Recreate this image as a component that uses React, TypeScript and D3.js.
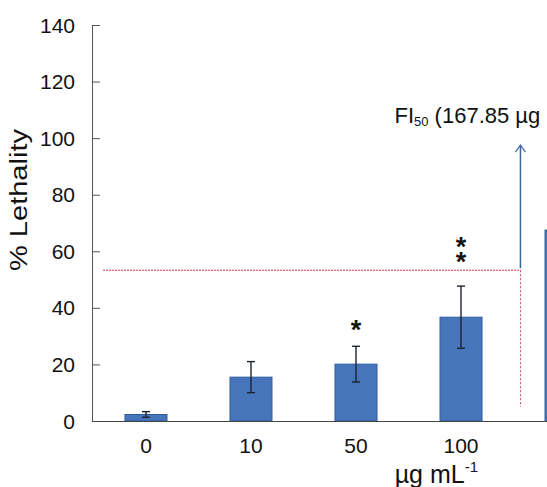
import React from 'react';
import * as d3 from 'd3';

// concentrations (µg/mL) – the last one is the FI50 bar, cut off by the frame
const categories = ['0', '10', '50', '100', 'FI50'];
const tickLabels = ['0', '10', '50', '100', ''];
const lethality = [2.3, 15.5, 20.1, 36.7, 67.5];
const errors = [1.0, 5.5, 6.3, 11.0, 0];
const stars = ['', '', '*', '**', ''];
// lethality level of the lowest star of each column
const starLevel = [0, 0, 34.6, 58.7, 0];
const yTicks = [0, 20, 40, 60, 80, 100, 120, 140];

// FI50 annotation
const fiLevel = 53.3;
const arrowTop = 97.5;
const fiText = '(167.85 µg mL⁻¹)';

const W = 547;
const H = 487;
const FONT = '"Liberation Sans", Arial, sans-serif';

const App = () => {
  const x = d3.scaleBand<string>()
    .domain(categories)
    .range([92, 620])
    .paddingInner(0.6)
    .paddingOuter(0.314);

  const y = d3.scaleLinear()
    .domain([0, 140])
    .range([421, 25]);

  const bw = x.bandwidth();
  const x0 = x.range()[0];
  // vertical FI50 marker sits in the gap before the last bar
  const gapStart = x('100')! + bw;
  const fiX = gapStart + (x('FI50')! - gapStart) * 0.61;

  return (
    <svg width={W} height={H} style={{ position: 'absolute', left: 0, top: 0, background: '#fff' }}
      fontFamily={FONT}>
      <defs>
        <marker id="arrow" viewBox="0 0 12 12" refX="11" refY="6" markerWidth="12" markerHeight="12"
          markerUnits="userSpaceOnUse" orient="auto">
          <path d="M4,1 L11,6 L4,11" fill="none" stroke="#4a6ea8" strokeWidth="1.3" />
        </marker>
      </defs>

      {/* red 50% reference lines */}
      <line x1={x0 + 11} x2={fiX} y1={y(fiLevel)} y2={y(fiLevel)}
        stroke="#e0404c" strokeWidth={1} strokeDasharray="2,1" />
      <line x1={fiX} x2={fiX} y1={y(fiLevel)} y2={y(5)}
        stroke="#c04060" strokeWidth={1} strokeDasharray="2,2" />

      {/* bars */}
      {categories.map((c, i) => (
        <rect key={c} x={x(c)} y={y(lethality[i])} width={bw} height={y(0) - y(lethality[i])}
          fill="#4675bb" stroke="#2f5d9e" strokeWidth={1} />
      ))}

      {/* error bars */}
      {categories.map((c, i) => errors[i] > 0 && (
        <g key={c} stroke="#1c2230" strokeWidth={1.4}>
          <line x1={x(c)! + bw / 2} x2={x(c)! + bw / 2}
            y1={y(lethality[i] + errors[i])} y2={y(lethality[i] - errors[i])} />
          <line x1={x(c)! + bw / 2 - 4} x2={x(c)! + bw / 2 + 4}
            y1={y(lethality[i] + errors[i])} y2={y(lethality[i] + errors[i])} />
          <line x1={x(c)! + bw / 2 - 4} x2={x(c)! + bw / 2 + 4}
            y1={y(lethality[i] - errors[i])} y2={y(lethality[i] - errors[i])} />
        </g>
      ))}

      {/* significance stars */}
      {categories.map((c, i) => stars[i].split('').map((s, k) => (
        <text key={c + k} x={x(c)! + bw / 2} textAnchor="middle" fontSize={27} fontWeight="bold"
          y={y(starLevel[i]) + 16 - k * 15} fill="#111">{s}</text>
      )))}

      {/* FI50 arrow */}
      <line x1={fiX} x2={fiX} y1={y(fiLevel) - 2} y2={y(arrowTop)}
        stroke="#3f639c" strokeWidth={1.5} markerEnd="url(#arrow)" />
      <text x={fiX - 126} y={y(arrowTop) - 22} fontSize={22} fill="#111">
        FI<tspan fontSize={13} dy={3}>50</tspan><tspan dy={-3}> {fiText}</tspan>
      </text>

      {/* y axis */}
      <line x1={x0 + 0.5} x2={x0 + 0.5} y1={y(140)} y2={y(0)} stroke="#555" strokeWidth={1} />
      {yTicks.map(t => (
        <g key={t}>
          <line x1={x0} x2={x0 + 8} y1={y(t) + 0.5} y2={y(t) + 0.5} stroke="#555" strokeWidth={1} />
          <text x={x0 - 17} y={y(t)} dy="0.36em" textAnchor="end" fontSize={21} fill="#111">{t}</text>
        </g>
      ))}
      <text transform={`translate(27,200) rotate(-90)`} textAnchor="middle" fontSize={23}
        textLength={142} lengthAdjust="spacingAndGlyphs" fill="#111">% Lethality</text>

      {/* x axis */}
      <line x1={x0} x2={W} y1={y(0) + 0.5} y2={y(0) + 0.5} stroke="#444" strokeWidth={1.2} />
      {categories.map((c, i) => (
        <text key={c} x={x(c)! + bw / 2} y={453} textAnchor="middle" fontSize={21} fill="#111">
          {tickLabels[i]}
        </text>
      ))}
      <text x={x('100')! + bw / 2 + 17} y={483} textAnchor="end" fontSize={25} fill="#111">
        µg mL<tspan fontSize={15} dy={-11}>-1</tspan>
      </text>
    </svg>
  );
};

export default App;
